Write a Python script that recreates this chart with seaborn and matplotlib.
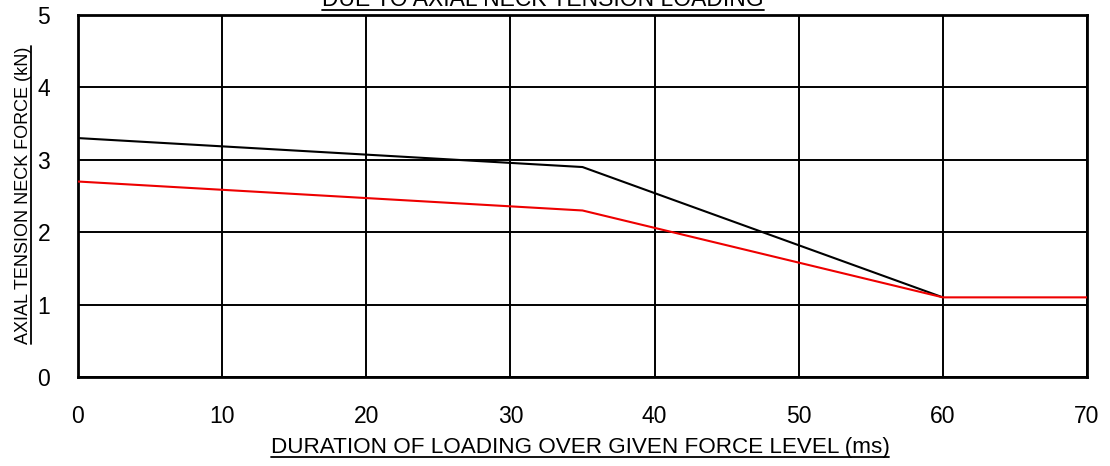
import matplotlib
matplotlib.use("Agg")
import matplotlib.pyplot as plt
import seaborn as sns
import pandas as pd
from matplotlib.lines import Line2D

sns.set_theme(style="white")
plt.rcParams['font.family'] = ['Liberation Sans', 'DejaVu Sans']

# data
black_x = [0, 35, 60]
black_y = [3.3, 2.9, 1.1]
red_x = [0, 35, 60, 70]
red_y = [2.7, 2.3, 1.1, 1.1]
x_ticks = [0, 10, 20, 30, 40, 50, 60, 70]
y_ticks = [0, 1, 2, 3, 4, 5]
title = "DUE TO AXIAL NECK TENSION LOADING"
xlabel = "DURATION OF LOADING OVER GIVEN FORCE LEVEL (ms)"
ylabel = "AXIAL TENSION NECK FORCE (kN)"

W, H = 1110, 466
fig = plt.figure(figsize=(W / 100, H / 100), dpi=100)
ax = fig.add_axes([78 / W, (H - 377) / H, (1087 - 78) / W, (377 - 15) / H])

df_b = pd.DataFrame({"x": black_x, "y": black_y})
df_r = pd.DataFrame({"x": red_x, "y": red_y})
sns.lineplot(data=df_b, x="x", y="y", ax=ax, color="black", lw=1.5, zorder=3)
sns.lineplot(data=df_r, x="x", y="y", ax=ax, color="#ee0000", lw=1.5, zorder=4)

ax.set_xlim(0, 70)
ax.set_ylim(0, 5)
ax.set_xticks(x_ticks)
ax.set_yticks(y_ticks)
ax.grid(True, color="black", lw=1.4)
ax.set_axisbelow(True)
for s in ax.spines.values():
    s.set_color("black")
    s.set_linewidth(2)
ax.tick_params(length=0, labelsize=16.5, labelcolor="black")
ax.tick_params(axis="x", pad=20)
ax.tick_params(axis="y", pad=20)
ax.set_xlabel("")
ax.set_ylabel("")

t_title = fig.text(543 / W, 1 - 6 / H, title, ha="center", va="baseline",
                   fontsize=16.5, color="black")
t_x = fig.text(580 / W, 1 - 453 / H, xlabel, ha="center", va="baseline",
               fontsize=16.2, color="black")
t_y = fig.text(28 / W, (H - 195) / H, ylabel, ha="center", va="baseline",
               rotation=90, fontsize=13, color="black", rotation_mode="anchor")

fig.canvas.draw()
r = fig.canvas.get_renderer()
inv = fig.transFigure.inverted()
for t in (t_title, t_x):
    bb = t.get_window_extent(r)
    (x0, y0), (x1, y1) = inv.transform([(bb.x0, bb.y0), (bb.x1, bb.y1)])
    yy = y0 + 1.5 / H
    fig.add_artist(Line2D([x0, x1], [yy, yy], transform=fig.transFigure,
                          color="black", lw=1.3))
bb = t_y.get_window_extent(r)
(x0, y0), (x1, y1) = inv.transform([(bb.x0, bb.y0), (bb.x1, bb.y1)])
xx = x1 - 1.0 / W
fig.add_artist(Line2D([xx, xx], [y0, y1], transform=fig.transFigure,
                      color="black", lw=1.3))

fig.savefig("out.png", dpi=100)
